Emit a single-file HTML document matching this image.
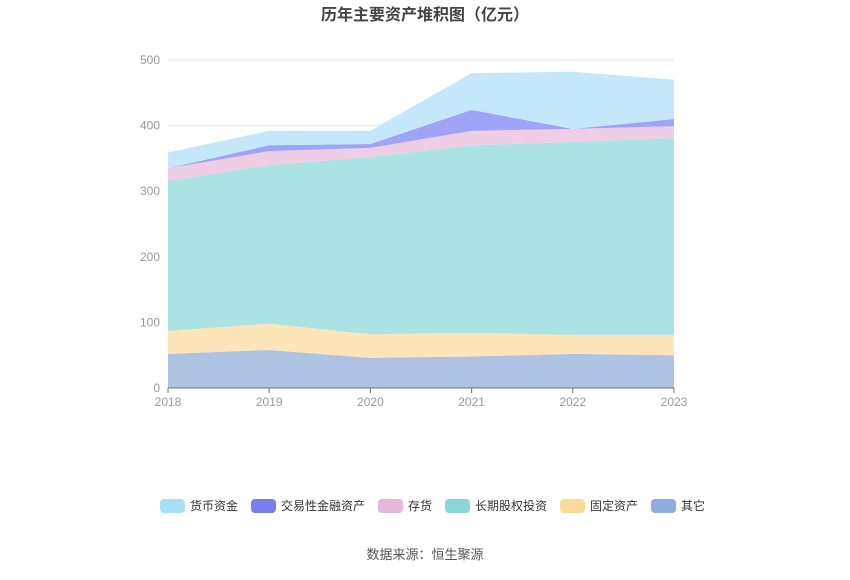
<!DOCTYPE html>
<html><head><meta charset="utf-8"><style>
body{margin:0;background:#fff;width:850px;height:575px;overflow:hidden;font-family:"Liberation Sans","Noto Sans CJK SC",sans-serif}
</style></head><body>
<svg id="c" width="850" height="575" xmlns="http://www.w3.org/2000/svg">
<text x="425" y="20" text-anchor="middle" font-size="16" font-weight="bold" fill="#444" font-family="Liberation Sans, Noto Sans CJK SC, sans-serif">历年主要资产堆积图（亿元）</text>
<g id="grid"></g><g id="areas"></g><g id="axes"></g><g id="legend"></g>
<text x="425" y="559" text-anchor="middle" font-size="13" fill="#555" font-family="Liberation Sans, Noto Sans CJK SC, sans-serif">数据来源：恒生聚源</text>
</svg>
<script>
const years=["2018","2019","2020","2021","2022","2023"];
const yTicks=[0,100,200,300,400,500];
const other=[52,58,46,48,52,50];
const fixedAssets=[35,40,36,36,29,31];
const longEquity=[229,242,270,286,294,300];
const inventory=[19,21,14,22,20,18];
const tradingFin=[0,9,6,32,0,11];
const cash=[24,22,20,56,87,60];
const NS="http://www.w3.org/2000/svg";
const x0=168,x1=674,y0=388,yTop=60;
const X=i=>x0+(x1-x0)*i/(years.length-1);
const Y=v=>y0-(y0-yTop)*v/500;
function mk(t,a,p){const e=document.createElementNS(NS,t);for(const k in a)e.setAttribute(k,a[k]);p.appendChild(e);return e;}
const grid=document.getElementById('grid'),axes=document.getElementById('axes'),areas=document.getElementById('areas'),leg=document.getElementById('legend');
yTicks.forEach(t=>{
 if(t>0){const l=mk('line',{x1:x0,x2:x1,y1:Y(t),y2:Y(t),stroke:'#e0e6f1'},grid);
 
 }
 const tx=mk('text',{x:160,y:Y(t)+4,'text-anchor':'end','font-size':12,fill:'#999'},axes);tx.textContent=t;
 
 
});
const ax=mk('line',{x1:x0,x2:x1,y1:y0,y2:y0,stroke:'#6e7079'},axes);


years.forEach((yv,i)=>{
 const tk=mk('line',{x1:X(i),x2:X(i),y1:y0,y2:y0+5,stroke:'#6e7079'},axes);
 
 
 const tx=mk('text',{x:X(i),y:y0+18,'text-anchor':'middle','font-size':12,fill:'#999'},axes);tx.textContent=yv;
 
 
});
const series=[
 {n:'其它',d:other,f:'#aec3e3',l:'#8eaede',k:'area-other'},
 {n:'固定资产',d:fixedAssets,f:'#fde4b9',l:'#fdd99a',k:'area-fixed-assets'},
 {n:'长期股权投资',d:longEquity,f:'#abe3e4',l:'#88d7d8',k:'area-long-term-equity'},
 {n:'存货',d:inventory,f:'#efcee5',l:'#e6b6db',k:'area-inventory'},
 {n:'交易性金融资产',d:tradingFin,f:'#a0a4f7',l:'#7a7ff0',k:'area-trading-financial'},
 {n:'货币资金',d:cash,f:'#c4e8fa',l:'#a8dff9',k:'area-cash'}];
let base=years.map(()=>0);
series.forEach(s=>{
 const top=base.map((b,i)=>b+s.d[i]);
 let p=top.map((v,i)=>(i?'L':'M')+X(i)+','+Y(v)).join('');
 for(let i=years.length-1;i>=0;i--)p+='L'+X(i)+','+Y(base[i]);
 const a=mk('path',{d:p+'Z',fill:s.f},areas);
 
 
 base=top;
});
const order=[5,4,3,2,1,0];let lx=160;
order.forEach(i=>{const s=series[i];
 const g=mk('g',{},leg);
 
 
 mk('rect',{x:lx,y:499,width:25,height:14,rx:4,fill:s.l},g);
 const t=mk('text',{x:lx+30,y:510,'font-size':12,fill:'#333'},g);t.textContent=s.n;
 lx+=30+s.n.length*12+13;
});
</script>
</body></html>
